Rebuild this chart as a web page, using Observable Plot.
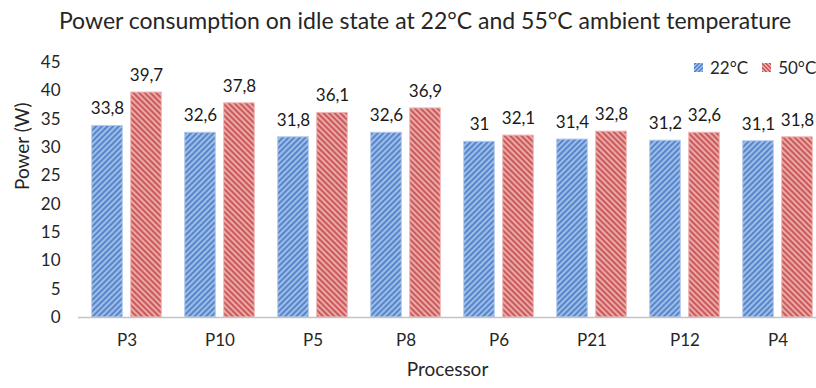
<!DOCTYPE html>
<html>
<head>
<meta charset="utf-8">
<script src="https://cdn.jsdelivr.net/npm/d3@7"></script>
<script src="https://cdn.jsdelivr.net/npm/@observablehq/plot@0.6"></script>
<style>
  html, body { margin: 0; padding: 0; background: #fff; }
  #wrap { position: relative; width: 816px; height: 388px; font-family: Lato, "Open Sans", sans-serif; color: #262626; overflow: hidden; }
  #title { height: 40px; line-height: 40px; text-align: center; font-size: 23px; padding-left: 34px; box-sizing: border-box; white-space: nowrap; }
  #legend { position: absolute; top: 57px; left: 694px; font-size: 17px; display: flex; align-items: center; white-space: nowrap; }
  .sw { display: inline-block; width: 9px; height: 9px; margin-right: 7px; }
  .item { display: flex; align-items: center; margin-right: 14px; }
</style>
</head>
<body>
<div id="wrap">
  <div id="title">Power consumption on idle state at 22°C and 55°C ambient temperature</div>
  <div id="chart"></div>
  <div id="legend"></div>
</div>
<script>
const processors = ["P3", "P10", "P5", "P8", "P6", "P21", "P12", "P4"];
const series = ["22°C", "50°C"];
const power22 = [33.8, 32.6, 31.8, 32.6, 31, 31.4, 31.2, 31.1];
const power50 = [39.7, 37.8, 36.1, 36.9, 32.1, 32.8, 32.6, 31.8];
const yTicks = [0, 5, 10, 15, 20, 25, 30, 35, 40, 45];

const rows = [];
processors.forEach((p, i) => {
  rows.push({processor: p, series: series[0], value: power22[i]});
  rows.push({processor: p, series: series[1], value: power50[i]});
});
const fmt = v => String(v).replace(".", ",");
const blueRows = rows.filter(d => d.series === series[0]);
const redRows = rows.filter(d => d.series === series[1]);

const chart = Plot.plot({
  width: 816,
  height: 348,
  marginTop: 22,
  marginBottom: 71,
  marginLeft: 78,
  marginRight: 0,
  style: {fontFamily: "Lato, 'Open Sans', sans-serif", fontSize: "17px", color: "#262626", background: "transparent", overflow: "visible"},
  x: {domain: processors, range: [78.3, 825.5], padding: 0, label: null, tickSize: 0, tickPadding: 16},
  y: {domain: [0, 45], ticks: yTicks, label: null, tickSize: 0, tickPadding: 18},
  marks: [
    Plot.barY(blueRows, {x: "processor", y: "value", fill: "url(#hatchBlue)", stroke: "#b3cbeb", strokeWidth: 1, insetLeft: 11.7, insetRight: 50.7}),
    Plot.barY(redRows, {x: "processor", y: "value", fill: "url(#hatchRed)", stroke: "#eeb8b8", strokeWidth: 1, insetLeft: 50.7, insetRight: 11.7}),
    Plot.ruleY([0], {stroke: "#c4c4c4", strokeWidth: 1.5}),
    Plot.text(blueRows, {x: "processor", y: "value", text: d => fmt(d.value), dx: -19.5, dy: -17, fontSize: 17, fill: "#1a1a1a"}),
    Plot.text(redRows, {x: "processor", y: "value", text: d => fmt(d.value), dx: 19.5, dy: -17, fontSize: 17, fill: "#1a1a1a"}),
    Plot.text(["Power (W)"], {frameAnchor: "left", dx: -56, rotate: -90, fontSize: 19, fill: "#262626"}),
    Plot.text(["Processor"], {frameAnchor: "bottom", dy: 58, fontSize: 19, fill: "#262626"})
  ]
});

// hatch patterns
const ns = "http://www.w3.org/2000/svg";
const defs = document.createElementNS(ns, "defs");
function pattern(id, base, stripe, angle) {
  const p = document.createElementNS(ns, "pattern");
  p.setAttribute("id", id);
  p.setAttribute("patternUnits", "userSpaceOnUse");
  p.setAttribute("width", "4");
  p.setAttribute("height", "4");
  p.setAttribute("patternTransform", `rotate(${angle})`);
  const r = document.createElementNS(ns, "rect");
  r.setAttribute("width", "4"); r.setAttribute("height", "4"); r.setAttribute("fill", base);
  const s = document.createElementNS(ns, "rect");
  s.setAttribute("width", "2"); s.setAttribute("height", "4"); s.setAttribute("fill", stripe);
  p.appendChild(r); p.appendChild(s);
  defs.appendChild(p);
}
pattern("hatchBlue", "#9dbde8", "#5886ca", 45);
pattern("hatchRed", "#eaa8a8", "#cb5a5a", -45);
chart.insertBefore(defs, chart.firstChild);
document.getElementById("chart").appendChild(chart);

// legend
const legend = document.getElementById("legend");
const swatchCss = [
  "repeating-linear-gradient(-45deg, #5886ca 0 1.4px, #9dbde8 1.4px 2.8px)",
  "repeating-linear-gradient(45deg, #cb5a5a 0 1.4px, #eaa8a8 1.4px 2.8px)"
];
series.forEach((s, i) => {
  const item = document.createElement("div");
  item.className = "item";
  const sw = document.createElement("span");
  sw.className = "sw";
  sw.style.background = swatchCss[i];
  item.appendChild(sw);
  item.appendChild(document.createTextNode(s));
  legend.appendChild(item);
});
</script>
</body>
</html>
